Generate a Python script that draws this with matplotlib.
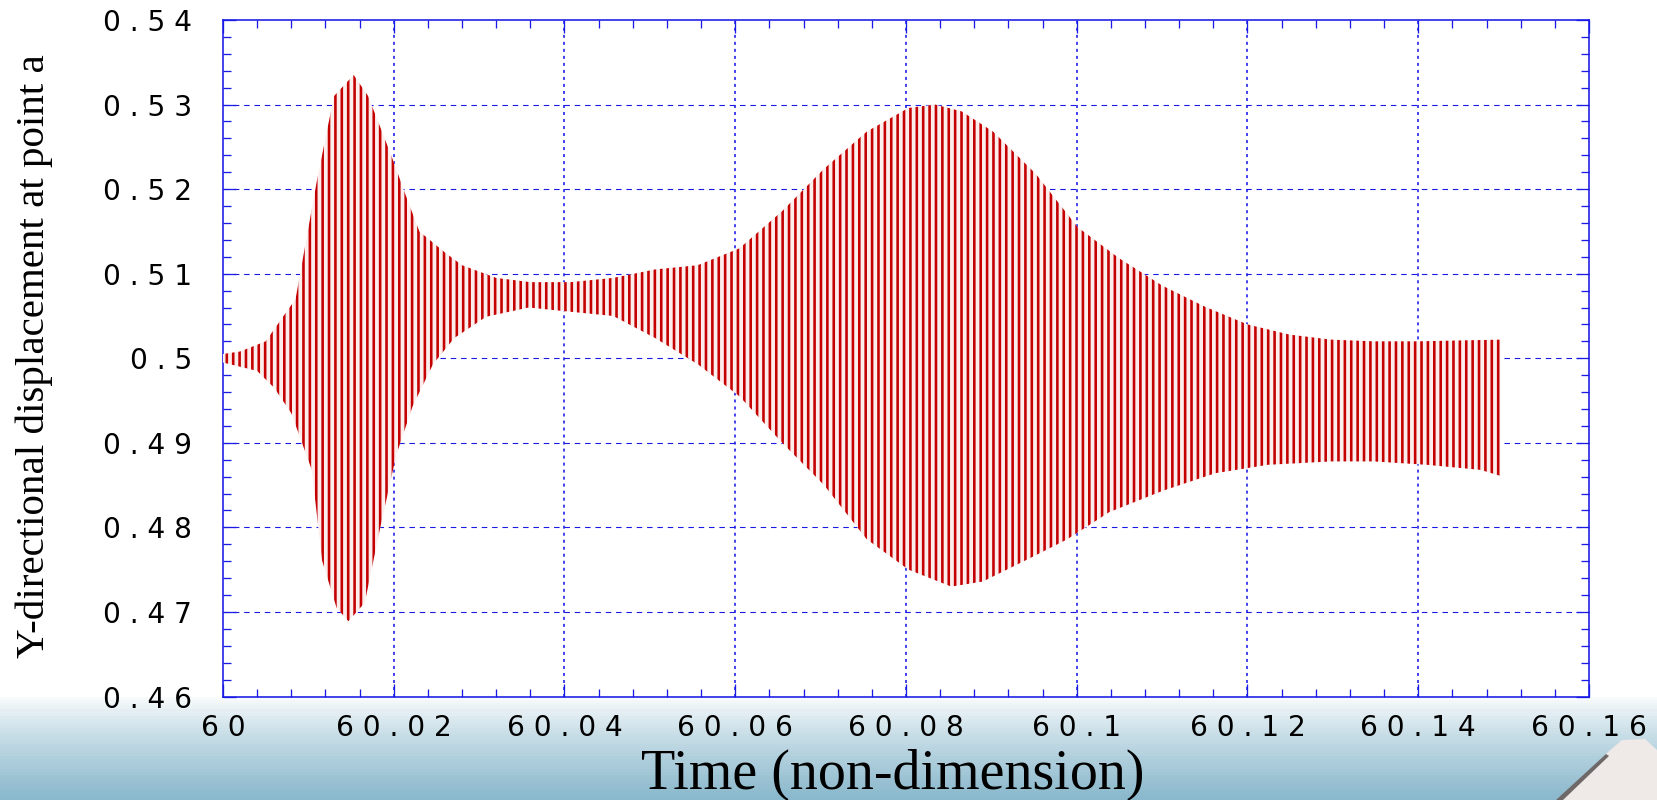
import numpy as np
import matplotlib
matplotlib.use("Agg")
import matplotlib.pyplot as plt
from matplotlib.ticker import MultipleLocator
from matplotlib.patches import Polygon

DPI = 115
def px(v):
    return v * 72.0 / DPI

# ---- data (envelope of the oscillating response) ----
t_upper = [60.000, 60.002, 60.005, 60.0085, 60.011, 60.013, 60.0153, 60.017, 60.0197,
           60.0215, 60.023, 60.026, 60.028, 60.032, 60.036, 60.0407, 60.0457, 60.0506,
           60.0556, 60.0605, 60.0655, 60.0704, 60.0754, 60.0803, 60.0834, 60.0865,
           60.0902, 60.0952, 60.1001, 60.105, 60.11, 60.115, 60.12, 60.1249, 60.1298,
           60.1348, 60.14, 60.1446, 60.1496]
upper = [0.5005, 0.5008, 0.502, 0.507, 0.521, 0.531, 0.5335, 0.531, 0.524,
         0.519, 0.515, 0.5125, 0.511, 0.5095, 0.509, 0.509, 0.5095, 0.5105,
         0.511, 0.513, 0.5174, 0.5224, 0.5268, 0.5296, 0.530, 0.5292,
         0.5268, 0.5218, 0.5155, 0.5118, 0.5086, 0.5061, 0.504, 0.5028, 0.5022,
         0.502, 0.502, 0.5021, 0.5022]

t_lower = [60.000, 60.004, 60.006, 60.008, 60.0104, 60.0116, 60.0133, 60.0147, 60.0166,
           60.0184, 60.0203, 60.0222, 60.0246, 60.0271, 60.0308, 60.0358, 60.0407,
           60.0457, 60.0506, 60.0556, 60.0605, 60.0655, 60.0704, 60.0754, 60.0803,
           60.0853, 60.089, 60.094, 60.0989, 60.1038, 60.11, 60.1162, 60.1224,
           60.1298, 60.1348, 60.141, 60.1473, 60.1496]
lower = [0.4995, 0.4985, 0.4965, 0.4935, 0.4868, 0.4761, 0.4705, 0.4689, 0.4711,
         0.4799, 0.4886, 0.4943, 0.4993, 0.5024, 0.5049, 0.506, 0.5055,
         0.505, 0.5024, 0.4993, 0.4955, 0.490, 0.485, 0.4786, 0.475,
         0.473, 0.4736, 0.4761, 0.4786, 0.4818, 0.4843, 0.4864, 0.4874,
         0.4878, 0.4878, 0.4874, 0.4868, 0.4861]

x_ticks = [60.0, 60.02, 60.04, 60.06, 60.08, 60.1, 60.12, 60.14, 60.16]
x_labels = ["60", "60.02", "60.04", "60.06", "60.08", "60.1", "60.12", "60.14", "60.16"]
y_ticks = [0.46, 0.47, 0.48, 0.49, 0.5, 0.51, 0.52, 0.53, 0.54]
y_labels = ["0.46", "0.47", "0.48", "0.49", "0.5", "0.51", "0.52", "0.53", "0.54"]

x_title = "Time (non-dimension)"
y_title = "Y-directional displacement at point a"

# ---- figure ----
W, H = 1657, 800
plt.rcParams["hatch.linewidth"] = px(2.6)
fig = plt.figure(figsize=(W / DPI, H / DPI), dpi=DPI)
fig.patch.set_facecolor("white")

# background gradient at bottom of page
bg = fig.add_axes([0, 0, 1, 1], zorder=-10)
bg.set_axis_off()
n = 256
yy = np.linspace(0, 1, n)
top_frac = 1 - 697 / H
w = np.clip((top_frac - yy) / top_frac, 0, 1) ** 0.8
c0 = np.array([1.0, 1.0, 1.0])
c1 = np.array([138, 184, 204]) / 255.0
img = (1 - w)[:, None] * c0 + w[:, None] * c1
bg.imshow(img[:, None, :], extent=[0, 1, 0, 1], origin="lower", aspect="auto")
bg.set_xlim(0, 1)
bg.set_ylim(0, 1)
# page curl
curl = Polygon([(1562 / W, 0), (1608 / W, 1 - 752 / H), (1622 / W, 1 - 740 / H),
                (1645 / W, 1 - 739 / H), (1657 / W, 1 - 750 / H), (1, 0)],
               closed=True, facecolor="#efe9e7", edgecolor="none", transform=bg.transAxes)
bg.add_patch(curl)
shade = Polygon([(1556 / W, 0), (1606 / W, 1 - 754 / H), (1609 / W, 1 - 756 / H), (1563 / W, 0)],
                closed=True, facecolor="#6f6868", edgecolor="none", transform=bg.transAxes)
bg.add_patch(shade)

left, right, bottom, top = 223 / W, 1589 / W, 1 - 696.5 / H, 1 - 20 / H
ax = fig.add_axes([left, bottom, right - left, top - bottom])
ax.set_facecolor("white")

blue = "#1a1ae6"
ax.set_xlim(60.0, 60.16)
ax.set_ylim(0.46, 0.54)

# signal band: envelope polygon with dense vertical strokes
poly_t = np.concatenate([t_upper, t_lower[::-1]])
poly_y = np.concatenate([upper, lower[::-1]])
ax.fill(poly_t, poly_y, facecolor="#fdeeee", edgecolor="#c40000", hatch="|||",
        linewidth=0, zorder=3)

# ticks and labels (letter-spaced like the original)
lab_font = dict(family="DejaVu Sans", fontsize=px(28), color="black")
ax.set_xticks(x_ticks)
ax.set_yticks(y_ticks)
ax.set_xticklabels([" ".join(s) for s in x_labels], **lab_font)
ax.set_yticklabels([" ".join(s) for s in y_labels], **lab_font)
ax.xaxis.set_minor_locator(MultipleLocator(0.004))
ax.yaxis.set_minor_locator(MultipleLocator(0.002))

# grid
for y in y_ticks[1:-1]:
    ax.axhline(y, color=blue, lw=px(1.1), dashes=(px(8), px(7)), zorder=1)
for x in x_ticks[1:-1]:
    ax.axvline(x, color=blue, lw=px(1.6), dashes=(px(3), px(4)), zorder=1)

for s in ax.spines.values():
    s.set_color(blue)
    s.set_linewidth(px(1.6))

ax.tick_params(which="both", direction="in", top=True, right=True, color=blue,
               width=px(1.3))
ax.tick_params(which="major", length=px(13))
ax.tick_params(which="minor", length=px(8))
ax.tick_params(axis="y", which="major", pad=px(31))
ax.tick_params(axis="x", which="major", pad=px(18))

fig.text(893 / W, 1 - 789 / H, x_title, ha="center", va="baseline",
         family="Liberation Serif", fontsize=px(56), color="black")
fig.text(34 / W, 1 - 356 / H, y_title, ha="center", va="center", rotation=90,
         family="Liberation Serif", fontsize=px(41), color="black")

fig.savefig("out.png", dpi=DPI)
